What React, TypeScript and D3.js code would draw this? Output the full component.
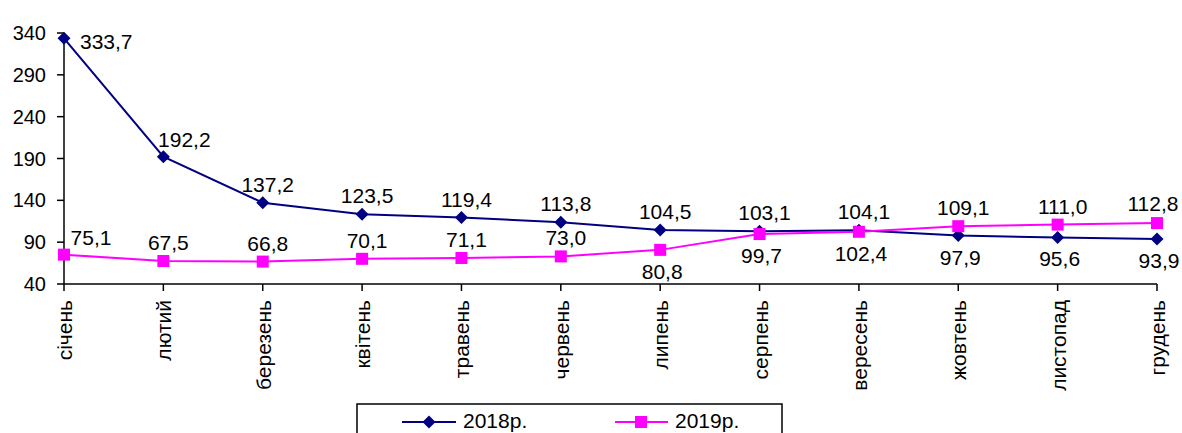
import React from "react";
import * as d3 from "d3";

const categories = ["січень", "лютий", "березень", "квітень", "травень", "червень", "липень", "серпень", "вересень", "жовтень", "листопад", "грудень"];
const series2018 = [333.7, 192.2, 137.2, 123.5, 119.4, 113.8, 104.5, 103.1, 104.1, 97.9, 95.6, 93.9];
const series2019 = [75.1, 67.5, 66.8, 70.1, 71.1, 73.0, 80.8, 99.7, 102.4, 109.1, 111.0, 112.8];
const yTicks = [40, 90, 140, 190, 240, 290, 340];
const seriesNames = ["2018р.", "2019р."];

// label placement per point (style config, not data)
const place2018 = ["right", "aboveR", "above", "above", "above", "above", "above", "above", "above", "below", "below", "below"];
const place2019 = ["aboveRR", "above", "above", "above", "above", "above", "below", "below", "below", "above", "above", "aboveL"];

const W = 1182, H = 433;
const left = 64, right = 1157, top = 33, bottom = 284;
const FONT = "'Liberation Sans', Arial, sans-serif";

const fmt = (v: number) => v.toFixed(1).replace(".", ",");

export default function App() {
  const x = d3.scalePoint<string>().domain(categories).range([left, right]);
  const y = d3.scaleLinear().domain([40, 340]).range([bottom, top]);
  const line = d3.line<number>().x((_, i) => x(categories[i])!).y((d) => y(d));

  const labelPos = (p: string, px: number, py: number) => {
    switch (p) {
      case "right": return { x: px + 16, y: py + 11, anchor: "start" };
      case "aboveR": return { x: px + 21, y: py - 10, anchor: "middle" };
      case "aboveRR": return { x: px + 27, y: py - 10, anchor: "middle" };
      case "aboveL": return { x: px - 4, y: py - 12, anchor: "middle" };
      case "below": return { x: px + 2, y: py + 29, anchor: "middle" };
      default: return { x: px + 5, y: py - 11, anchor: "middle" };
    }
  };

  const diamond = (cx: number, cy: number, r: number) =>
    `M${cx},${cy - r}L${cx + r},${cy}L${cx},${cy + r}L${cx - r},${cy}Z`;

  const navy = "#000080", mag = "#FF00FF";

  return (
    <svg width={W} height={H} style={{ position: "absolute", left: 0, top: 0, background: "#fff" }} fontFamily={FONT}>
      <rect x={0} y={0} width={W} height={H} fill="#fff" />
      {/* y axis */}
      <line x1={left} x2={left} y1={top} y2={bottom} stroke="#000" strokeWidth={1.5} />
      {yTicks.map((t) => (
        <g key={t}>
          <line x1={left - 7} x2={left} y1={y(t)} y2={y(t)} stroke="#000" strokeWidth={1.5} />
          <text x={left - 18} y={y(t)} dy="0.35em" textAnchor="end" fontSize={20} fill="#000">{t}</text>
        </g>
      ))}
      {/* x axis */}
      <line x1={left} x2={right} y1={bottom} y2={bottom} stroke="#000" strokeWidth={1.5} />
      {categories.map((c) => (
        <g key={c}>
          <line x1={x(c)!} x2={x(c)!} y1={bottom} y2={bottom + 7} stroke="#000" strokeWidth={1.5} />
          <text transform={`translate(${x(c)! + 8},${bottom + 16}) rotate(-90)`} textAnchor="end" fontSize={21} fill="#000">{c}</text>
        </g>
      ))}
      {/* 2018 */}
      <path d={line(series2018)!} fill="none" stroke={navy} strokeWidth={2} />
      {series2018.map((v, i) => (
        <path key={i} d={diamond(x(categories[i])!, y(v), 6.5)} fill={navy} />
      ))}
      {/* 2019 */}
      <path d={line(series2019)!} fill="none" stroke={mag} strokeWidth={2} />
      {series2019.map((v, i) => (
        <rect key={i} x={x(categories[i])! - 6} y={y(v) - 6} width={12} height={12} fill={mag} />
      ))}
      {/* labels */}
      {series2018.map((v, i) => {
        const p = labelPos(place2018[i], x(categories[i])!, y(v));
        return <text key={"a" + i} x={p.x} y={p.y} textAnchor={p.anchor as any} fontSize={21} fill="#000">{fmt(v)}</text>;
      })}
      {series2019.map((v, i) => {
        const p = labelPos(place2019[i], x(categories[i])!, y(v));
        return <text key={"b" + i} x={p.x} y={p.y} textAnchor={p.anchor as any} fontSize={21} fill="#000">{fmt(v)}</text>;
      })}
      {/* legend */}
      <rect x={357} y={404} width={425} height={60} fill="#fff" stroke="#000" strokeWidth={1.5} />
      <line x1={402} x2={456} y1={422} y2={422} stroke={navy} strokeWidth={2} />
      <path d={diamond(429, 422, 6.5)} fill={navy} />
      <text x={463} y={428} fontSize={21} fill="#000">{seriesNames[0]}</text>
      <line x1={615} x2={668} y1={422} y2={422} stroke={mag} strokeWidth={2} />
      <rect x={635} y={416} width={12} height={12} fill={mag} />
      <text x={675} y={428} fontSize={21} fill="#000">{seriesNames[1]}</text>
    </svg>
  );
}
